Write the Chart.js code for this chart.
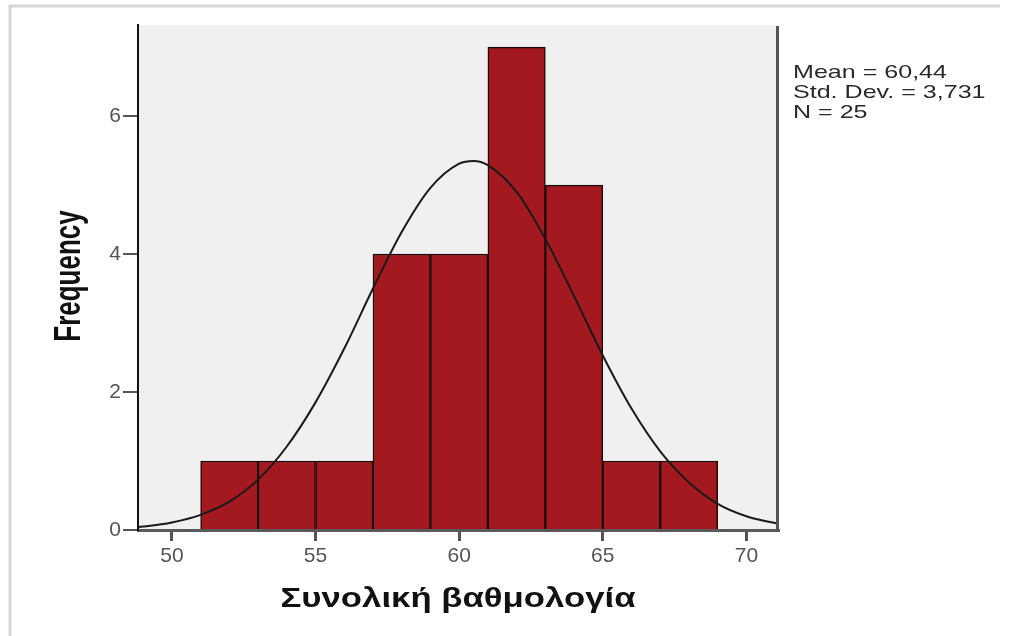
<!DOCTYPE html>
<html>
<head>
<meta charset="utf-8">
<script src="https://cdn.jsdelivr.net/npm/chart.js@4.4.1/dist/chart.umd.min.js"></script>
<style>
  html, body { margin: 0; padding: 0; background: #ffffff; }
  canvas { display: block; }
</style>
</head>
<body>
<canvas id="hist" width="1031" height="636"></canvas>
<script>
// Histogram bins (width 2) and their frequencies
const binCenters = [52, 54, 56, 58, 60, 62, 64, 66, 68];
const binCounts  = [1, 1, 1, 4, 4, 7, 5, 1, 1];

// Fitted normal curve heights (frequency scale) along the score axis
const curveX = [48.5, 49, 50, 51, 52, 53, 54, 55, 56, 57, 58, 59, 60, 60.5, 61, 62, 63, 64, 65, 66, 67, 68, 69, 70, 71, 71.5];
const curveY = [0.03, 0.05, 0.11, 0.22, 0.41, 0.73, 1.21, 1.85, 2.63, 3.50, 4.32, 4.96, 5.31, 5.35, 5.29, 4.90, 4.22, 3.39, 2.53, 1.76, 1.14, 0.69, 0.38, 0.20, 0.10, 0.07];

// Axis ticks
const xTickValues = [50, 55, 60, 65, 70];
const yTickValues = [0, 2, 4, 6];

// Text
const statLines = ['Mean = 60,44', 'Std. Dev. = 3,731', 'N = 25'];
const xTitle = 'Συνολική βαθμολογία';
const yTitle = 'Frequency';

const FONT = '"Liberation Sans", Arial, Helvetica, sans-serif';

const decor = {
  id: 'decor',
  beforeDraw(chart) {
    const { ctx, chartArea: a } = chart;
    ctx.save();
    ctx.fillStyle = '#ffffff';
    ctx.fillRect(0, 0, chart.width, chart.height);
    // outer frame (top and left edges)
    ctx.strokeStyle = '#d6d6d6';
    ctx.lineWidth = 3;
    ctx.beginPath();
    ctx.moveTo(10, 636);
    ctx.lineTo(10, 6);
    ctx.lineTo(1000, 6);
    ctx.stroke();
    // plot background
    ctx.fillStyle = '#f0f0f0';
    ctx.fillRect(a.left, a.top, a.right - a.left, a.bottom - a.top);
    ctx.restore();
  },
  afterDraw(chart) {
    const { ctx, chartArea: a } = chart;
    ctx.save();
    // right edge of the plot frame
    ctx.strokeStyle = '#555555';
    ctx.lineWidth = 3;
    ctx.beginPath();
    ctx.moveTo(a.right - 0.5, a.top + 1);
    ctx.lineTo(a.right - 0.5, a.bottom);
    ctx.stroke();

    // x-axis title
    ctx.fillStyle = '#111111';
    ctx.font = 'bold 27px ' + FONT;
    ctx.textAlign = 'center';
    ctx.textBaseline = 'alphabetic';
    let w = ctx.measureText(xTitle).width;
    ctx.save();
    ctx.translate((a.left + a.right) / 2, 607);
    ctx.scale(355 / w, 1);
    ctx.fillText(xTitle, 0, 0);
    ctx.restore();

    // y-axis title
    ctx.font = 'bold 26px ' + FONT;
    ctx.save();
    ctx.translate(80, 276);
    ctx.scale(1.45, 1);
    ctx.rotate(-Math.PI / 2);
    ctx.fillText(yTitle, 0, 0);
    ctx.restore();

    // summary statistics
    ctx.fillStyle = '#2a2a2a';
    ctx.font = '19px ' + FONT;
    ctx.textAlign = 'left';
    w = ctx.measureText(statLines[0]).width;
    const sx = 154 / w;
    statLines.forEach((line, i) => {
      ctx.save();
      ctx.translate(793, 78 + i * 20);
      ctx.scale(sx, 1);
      ctx.fillText(line, 0, 0);
      ctx.restore();
    });
    ctx.restore();
  }
};

new Chart(document.getElementById('hist'), {
  type: 'bar',
  data: {
    datasets: [
      {
        type: 'line',
        data: curveX.map((x, i) => ({ x, y: curveY[i] })),
        borderColor: '#1a1a1a',
        borderWidth: 2,
        pointRadius: 0,
        cubicInterpolationMode: 'monotone',
        fill: false,
        order: 0
      },
      {
        type: 'bar',
        data: binCenters.map((x, i) => ({ x, y: binCounts[i] })),
        backgroundColor: '#a3191f',
        borderColor: '#1e0a0a',
        borderWidth: 1.5,
        barPercentage: 1,
        categoryPercentage: 1,
        order: 1
      }
    ]
  },
  plugins: [decor],
  options: {
    responsive: false,
    animation: false,
    devicePixelRatio: 1,
    layout: { padding: { left: 0, top: 25, right: 253, bottom: 0 } },
    plugins: { legend: { display: false }, tooltip: { enabled: false } },
    scales: {
      x: {
        type: 'linear',
        offset: false,
        min: 48.82,
        max: 71.1,
        afterBuildTicks(scale) { scale.ticks = xTickValues.map(v => ({ value: v })); },
        afterFit(scale) { scale.height = 106; },
        grid: { offset: false, drawOnChartArea: false, drawTicks: true, tickLength: 11, color: '#555555', lineWidth: 3 },
        border: { display: true, color: '#5a5a5a', width: 3 },
        ticks: { color: '#555555', padding: 3, font: { family: FONT, size: 21 }, maxRotation: 0 }
      },
      y: {
        type: 'linear',
        min: 0,
        max: 7.32,
        afterBuildTicks(scale) { scale.ticks = yTickValues.map(v => ({ value: v })); },
        afterFit(scale) { scale.width = 138; },
        grid: { drawOnChartArea: false, drawTicks: true, tickLength: 15, color: '#555555', lineWidth: 2 },
        border: { display: true, color: '#111111', width: 2 },
        ticks: { color: '#555555', padding: 2, font: { family: FONT, size: 21 } }
      }
    }
  }
});
</script>
</body>
</html>
